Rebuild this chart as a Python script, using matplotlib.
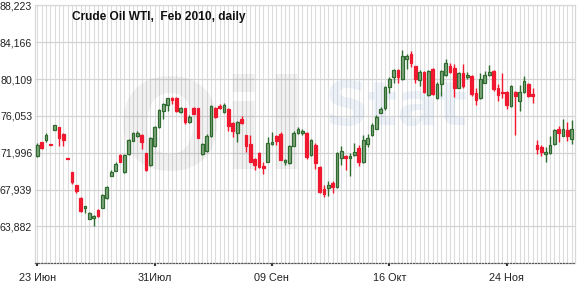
import matplotlib
matplotlib.use("Agg")
import matplotlib.pyplot as plt
from matplotlib.patches import Rectangle
import numpy as np

plt.rcParams["font.family"] = ["Liberation Sans", "DejaVu Sans"]

title = "Crude Oil WTI,  Feb 2010, daily"

opens = [71.60, 73.16, 73.41, 72.98, 74.51, 74.84, 74.11, 71.42, 69.85, 68.46,
         67.04, 65.91, 64.74, 64.82, 65.73, 65.95, 67.01, 69.48, 70.03, 71.78,
         69.85, 71.85, 73.31, 73.85, 73.96, 71.93, 70.65, 72.76, 74.84, 76.59,
         77.24, 78.05, 78.05, 76.48, 76.88, 75.38, 76.96, 76.88, 71.85, 72.21,
         73.85, 76.96, 77.13, 76.48, 76.85, 75.32, 74.22, 75.76, 73.93, 72.94,
         71.31, 71.96, 70.51, 71.01, 72.94, 73.85, 74.11, 71.01, 70.87, 72.76,
         74.22, 74.15, 74.22, 71.74, 72.84, 70.46, 67.95, 68.10, 68.68, 68.21,
         71.38, 71.67, 71.38, 71.74, 72.47, 71.01, 72.94, 73.93, 74.66, 76.41,
         76.96, 79.25, 80.35, 81.07, 80.13, 82.32, 82.86, 81.51, 80.05, 80.89,
         78.30, 81.22, 78.05, 79.51, 80.52, 81.58, 81.33, 79.15, 80.79, 80.35,
         80.42, 78.52, 78.05, 79.69, 80.52, 80.96, 79.15, 78.71, 78.67, 77.13,
         78.67, 77.68, 78.67, 79.51, 78.41, 72.84, 72.59, 71.85, 71.96, 72.94,
         74.66, 73.85, 74.51, 73.49]
highs = [73.02, 73.20, 74.15, 72.98, 75.10, 74.88, 74.22, 71.42, 69.92, 68.46,
         67.12, 66.13, 65.48, 65.18, 65.84, 67.45, 68.32, 70.10, 70.94, 71.85,
         71.82, 73.49, 74.29, 74.34, 74.04, 71.96, 73.68, 74.95, 76.85, 77.50,
         78.05, 78.12, 78.12, 77.02, 76.96, 76.15, 77.07, 76.96, 73.02, 74.04,
         77.26, 77.07, 77.32, 77.43, 76.88, 75.38, 75.49, 76.04, 73.96, 73.96,
         71.38, 72.04, 70.94, 73.68, 74.29, 73.93, 74.29, 71.31, 72.84, 74.34,
         74.88, 74.66, 74.29, 73.49, 73.05, 70.51, 68.46, 68.93, 68.93, 72.04,
         72.69, 71.74, 71.96, 73.05, 72.84, 73.93, 74.04, 75.32, 76.12, 77.02,
         79.32, 80.35, 81.22, 81.22, 83.33, 82.90, 83.15, 81.58, 81.15, 80.96,
         81.07, 81.29, 79.76, 81.15, 82.35, 81.88, 81.80, 80.85, 81.80, 80.85,
         80.60, 79.15, 80.79, 80.96, 81.69, 81.15, 79.51, 80.79, 78.78, 79.40,
         78.78, 79.40, 80.49, 79.69, 79.15, 73.38, 72.84, 72.65, 73.85, 74.59,
         74.95, 75.76, 75.38, 75.60]
lows = [71.52, 72.40, 73.20, 72.87, 74.48, 72.76, 72.76, 71.35, 68.54, 67.59,
        65.48, 65.40, 64.67, 63.95, 64.93, 65.91, 66.93, 69.41, 69.99, 70.94,
        69.77, 71.78, 73.24, 73.74, 72.40, 70.03, 70.57, 72.65, 74.77, 75.76,
        76.59, 77.32, 76.52, 76.41, 75.21, 75.27, 76.22, 73.57, 71.74, 72.13,
        73.77, 75.86, 76.85, 76.41, 74.40, 73.74, 73.13, 75.13, 72.04, 70.94,
        70.14, 70.32, 69.66, 70.94, 72.87, 72.84, 71.16, 70.68, 70.76, 72.69,
        74.04, 73.93, 71.31, 71.67, 70.21, 67.59, 67.12, 67.23, 67.59, 68.10,
        70.65, 70.14, 69.48, 71.67, 70.51, 70.87, 72.59, 73.85, 74.59, 76.34,
        76.70, 78.60, 79.69, 79.69, 79.98, 81.22, 81.44, 79.62, 79.32, 78.60,
        78.23, 78.30, 77.94, 78.23, 80.42, 80.79, 78.16, 79.07, 79.15, 80.13,
        78.23, 77.21, 77.94, 79.62, 80.42, 78.78, 77.68, 78.05, 76.77, 77.07,
        73.93, 76.59, 78.60, 78.16, 77.50, 71.85, 71.67, 71.01, 71.85, 72.84,
        73.13, 73.79, 73.31, 72.94]
closes = [72.87, 72.47, 73.90, 72.87, 75.02, 73.57, 73.38, 71.35, 68.76, 67.73,
          65.54, 66.09, 65.40, 65.04, 65.00, 67.37, 68.24, 69.85, 70.76, 70.94,
          71.74, 73.41, 74.15, 74.15, 73.13, 70.10, 73.57, 74.84, 76.66, 77.32,
          77.97, 77.79, 76.59, 76.88, 75.43, 75.93, 76.30, 73.60, 72.94, 73.85,
          77.13, 75.97, 76.88, 77.21, 74.95, 74.34, 75.43, 75.32, 72.69, 71.01,
          70.65, 70.40, 70.29, 73.02, 73.20, 73.31, 71.23, 71.20, 72.76, 74.22,
          74.59, 74.40, 71.58, 73.38, 70.87, 67.66, 67.48, 68.39, 68.21, 71.96,
          72.21, 71.45, 71.60, 72.10, 70.94, 73.41, 73.57, 75.02, 75.97, 76.85,
          79.25, 80.13, 81.07, 80.35, 82.68, 82.60, 81.88, 80.13, 80.89, 78.71,
          80.96, 78.41, 79.58, 80.96, 81.88, 80.89, 79.15, 80.79, 79.32, 80.60,
          78.41, 77.79, 80.13, 80.60, 80.89, 78.96, 78.34, 78.52, 77.24, 79.32,
          78.23, 78.71, 79.87, 78.23, 78.23, 72.40, 72.10, 72.10, 72.84, 74.51,
          74.22, 74.59, 73.79, 74.59]

y_ticks = [63.882, 67.939, 71.996, 76.053, 80.109, 84.166, 88.223]
y_min, y_max = 59.825, 88.223
tick_days = [0, 27, 54, 81, 108]
tick_labels = ["23 Июн", "31Июл", "09 Сен", "16 Окт", "24 Ноя"]

W, H = 580, 282
fig = plt.figure(figsize=(W / 100, H / 100), dpi=100)
ax = fig.add_axes([35 / W, (H - 263.3) / H, 540 / W, 258.0 / H])
ax.set_facecolor("white")

n = len(opens)
ax.set_xlim(-0.53, 123.75)
ax.set_ylim(y_min, y_max)

# vertical grid line per day
for i in range(n):
    ax.axvline(i, color="#dcdcdc", lw=0.8, zorder=0)
for t in y_ticks:
    ax.axhline(t, color="#d4d4d4", lw=0.9, zorder=0.5)

# faint watermark
ax.text(0.33, 0.50, "Oil", transform=ax.transAxes, fontsize=90, fontweight="bold",
        color="#000000", alpha=0.05, ha="center", va="center", zorder=0.6,
        family="DejaVu Sans")
ax.text(0.67, 0.60, "Stat", transform=ax.transAxes, fontsize=44, fontweight="bold",
        color="#5b8fd0", alpha=0.10, ha="center", va="center", zorder=0.6,
        family="DejaVu Sans")

green_edge = "#2f6b2f"
green_fill = "#7ea57e"
red_col = "#f0182e"
bw = 0.62
for i in range(n):
    o, h, l, c = opens[i], highs[i], lows[i], closes[i]
    up = c >= o
    ec = green_edge if up else red_col
    fc = green_fill if up else red_col
    ax.plot([i, i], [l, h], color=ec, lw=1.0, zorder=2, solid_capstyle="butt")
    bot = min(o, c)
    hgt = max(abs(c - o), 0.08)
    ax.add_patch(Rectangle((i - bw / 2, bot), bw, hgt, facecolor=fc, edgecolor=ec,
                           lw=0.9, zorder=3))

ax.set_yticks(y_ticks)
ax.set_yticklabels([("%.3f" % v).replace(".", ",") for v in y_ticks])
ax.tick_params(axis="y", length=0, pad=2, labelsize=7.6, labelcolor="#222222")
ax.set_xticks(tick_days)
ax.set_xticklabels(tick_labels)
ax.tick_params(axis="x", length=2, width=1.5, color="#333333", pad=5, labelsize=7.8,
               labelcolor="#222222")

for s in ["top", "right", "left"]:
    ax.spines[s].set_color("#d8d8d8")
    ax.spines[s].set_linewidth(0.9)
ax.spines["bottom"].set_color("#555555")
ax.spines["bottom"].set_linestyle((0, (1, 1.5)))
ax.spines["bottom"].set_linewidth(0.9)

fig.text(72 / W, 1 - 17 / H, title, fontsize=8.6, fontweight="bold", color="#111111",
         ha="left", va="center")

fig.savefig("out.png", dpi=100)
